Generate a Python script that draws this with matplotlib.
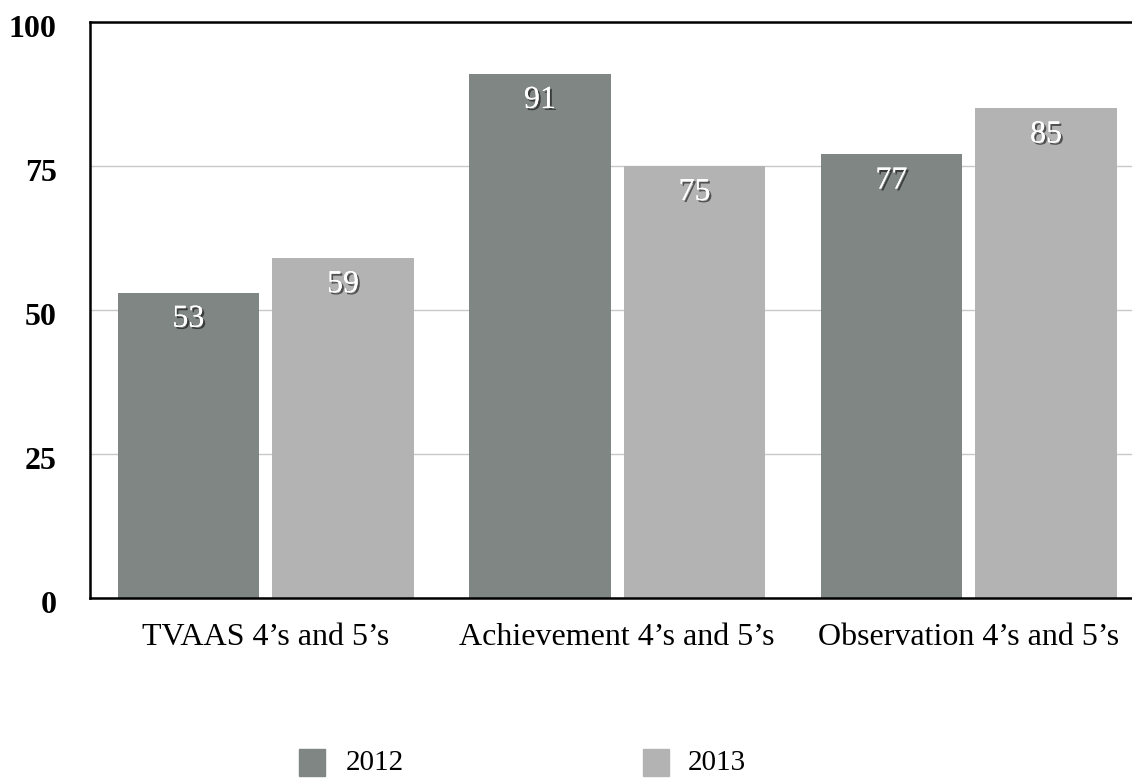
import matplotlib.pyplot as plt
import matplotlib.patheffects as pe
import matplotlib.transforms as mtransforms
import numpy as np

categories = ["TVAAS 4\u2019s and 5\u2019s", "Achievement 4\u2019s and 5\u2019s",
              "Observation 4\u2019s and 5\u2019s"]
years = ["2012", "2013"]
values_2012 = [53, 91, 77]
values_2013 = [59, 75, 85]
yticks = [0, 25, 50, 75, 100]

colors = ["#7f8683", "#b3b3b3"]
serif = ["Liberation Serif", "DejaVu Serif"]

W, H = 1132, 778
fig = plt.figure(figsize=(W / 100, H / 100), dpi=100)
# axes run a little past the right edge of the canvas
ax = fig.add_axes([90 / W, 1 - 598 / H, (1144.5 - 90) / W, (598 - 22) / H])

x = np.arange(len(categories))
width = 0.403
offset = 0.22
shadow = [pe.withSimplePatchShadow(offset=(1.5, -1.5), shadow_rgbFace="black", alpha=0.55),
          pe.Normal()]

for vals, dx, color in [(values_2012, -offset, colors[0]), (values_2013, offset, colors[1])]:
    bars = ax.bar(x + dx, vals, width, color=color, zorder=2)
    for b, v in zip(bars, vals):
        ax.text(b.get_x() + b.get_width() / 2, v - 4.6, str(v), ha="center", va="center",
                color="white", fontsize=23, family=serif, zorder=3, path_effects=shadow)

ax.set_xlim(-0.5, 2.5)
ax.set_ylim(0, 100)
ax.set_yticks(yticks)
ax.set_yticklabels([str(t) for t in yticks], family=serif, fontsize=23, fontweight="bold")
ax.tick_params(axis="y", length=0, pad=24)
# nudge the value labels slightly below their gridlines
shift = mtransforms.ScaledTranslation(0, -4 / 100, fig.dpi_scale_trans)
for lab in ax.get_yticklabels():
    lab.set_transform(lab.get_transform() + shift)
ax.set_xticks(x)
ax.set_xticklabels(categories, family=serif, fontsize=23)
ax.tick_params(axis="x", length=0, pad=18)

ax.yaxis.grid(True, color="#c8c8c8", linewidth=1, zorder=0)
ax.set_axisbelow(True)
for side in ["left", "top", "bottom"]:
    ax.spines[side].set_linewidth(1.8)
    ax.spines[side].set_color("black")
ax.spines["right"].set_visible(False)

# legend squares and labels
for sq_x, txt_x, color, year in [(299, 346, colors[0], years[0]), (643, 688, colors[1], years[1])]:
    fig.patches.append(plt.Rectangle((sq_x / W, 1 - 776 / H), 26 / W, 27 / H,
                                     transform=fig.transFigure, color=color))
    fig.text(txt_x / W, 1 - 763 / H, year, ha="left", va="center", family=serif, fontsize=21)

fig.savefig("out.png", dpi=100)
